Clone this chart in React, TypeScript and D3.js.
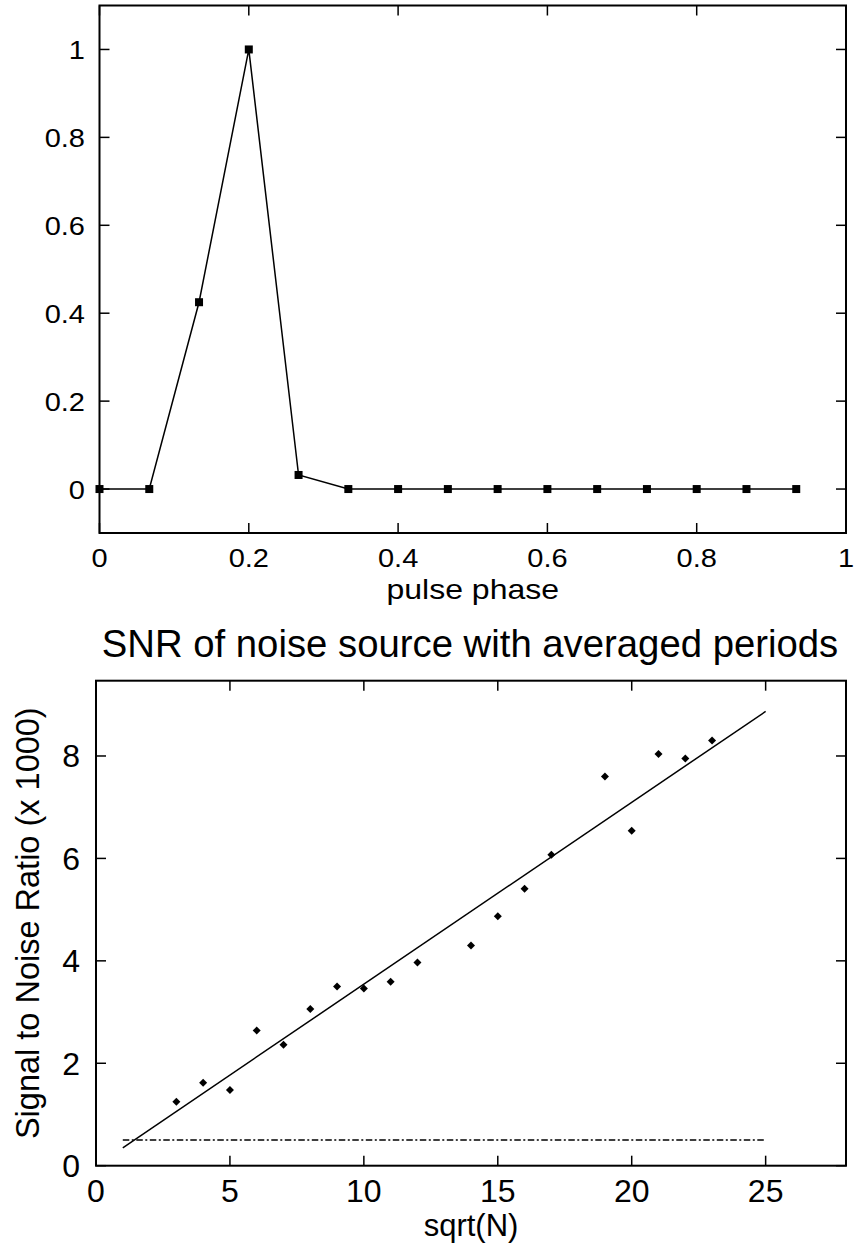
import React from "react";
import * as d3 from "d3";

// ---- Top plot data ----
const phaseX = [0, 1/15, 2/15, 3/15, 4/15, 5/15, 6/15, 7/15, 8/15, 9/15, 10/15, 11/15, 12/15, 13/15, 14/15];
const phaseY = [0, 0, 0.425, 1, 0.032, 0, 0, 0, 0, 0, 0, 0, 0, 0, 0];
const topXTicks = [0, 0.2, 0.4, 0.6, 0.8, 1];
const topYTicks = [0, 0.2, 0.4, 0.6, 0.8, 1];

// ---- Bottom plot data ----
const sqrtN = [3, 4, 5, 6, 7, 8, 9, 10, 11, 12, 14, 15, 16, 17, 19, 20, 21, 22, 23];
const snr = [1.25, 1.62, 1.48, 2.64, 2.36, 3.06, 3.50, 3.46, 3.59, 3.97, 4.30, 4.87, 5.41, 6.07, 7.60, 6.54, 8.04, 7.95, 8.30];
const fitSlope = 0.355;
const fitIntercept = -0.005;
const fitRange = [1, 25];
const noiseLevel = 0.5;
const botXTicks = [0, 5, 10, 15, 20, 25];
const botYTicks = [0, 2, 4, 6, 8];

const FONT = "'Liberation Sans', Arial, Helvetica, sans-serif";

export default function App() {
  // top scales
  const tx = d3.scaleLinear().domain([0, 1]).range([99.5, 846]);
  const ty = d3.scaleLinear().domain([-0.1, 1.1]).range([533, 5.5]);
  // bottom scales
  const bx = d3.scaleLinear().domain([0, 28]).range([96, 846]);
  const by = d3.scaleLinear().domain([0, 9.47]).range([1165.7, 680.7]);

  const topLine = d3.line<number>().x((_, i) => tx(phaseX[i])).y((d) => ty(d))(phaseY) || "";
  const tickLen = 10;

  const frame = (x0: number, x1: number, y0: number, y1: number) => (
    <rect x={x0} y={y1} width={x1 - x0} height={y0 - y1} fill="none" stroke="#000" strokeWidth={2} />
  );

  const diamond = (cx: number, cy: number, r: number) =>
    `M${cx},${cy - r}L${cx + r},${cy}L${cx},${cy + r}L${cx - r},${cy}Z`;

  return (
    <svg width={858} height={1246} style={{ position: "absolute", left: 0, top: 0, background: "#fff" }} fontFamily={FONT}>
      <rect x={0} y={0} width={858} height={1246} fill="#fff" />
      {/* ===== TOP PLOT ===== */}
      <g>
        {topXTicks.map((t) => (
          <g key={"tx" + t}>
            <line x1={tx(t)} x2={tx(t)} y1={533} y2={533 - tickLen} stroke="#000" strokeWidth={1.5} />
            <line x1={tx(t)} x2={tx(t)} y1={5.5} y2={5.5 + tickLen} stroke="#000" strokeWidth={1.5} />
            <text transform={`translate(${tx(t)},567) scale(1,0.92)`} textAnchor="middle" fontSize={29}>
              {d3.format("~g")(t)}
            </text>
          </g>
        ))}
        {topYTicks.map((t) => (
          <g key={"ty" + t}>
            <line x1={99.5} x2={99.5 + tickLen} y1={ty(t)} y2={ty(t)} stroke="#000" strokeWidth={1.5} />
            <line x1={846} x2={846 - tickLen} y1={ty(t)} y2={ty(t)} stroke="#000" strokeWidth={1.5} />
            <text transform={`translate(85,${ty(t) + 9.5}) scale(1,0.92)`} textAnchor="end" fontSize={29}>
              {d3.format("~g")(t)}
            </text>
          </g>
        ))}
        <path d={topLine} fill="none" stroke="#000" strokeWidth={1.5} />
        {phaseY.map((v, i) => (
          <rect key={"sq" + i} x={tx(phaseX[i]) - 4} y={ty(v) - 4} width={8} height={8} fill="#000" />
        ))}
        {frame(99.5, 846, 533, 5.5)}
        <text transform={`translate(${(99.5 + 846) / 2},598.5) scale(1,0.87)`} textAnchor="middle" fontSize={32}>
          pulse phase
        </text>
      </g>

      {/* ===== BOTTOM PLOT ===== */}
      <g>
        <text x={470} y={657.3} textAnchor="middle" fontSize={38.3}>
          SNR of noise source with averaged periods
        </text>
        {botXTicks.map((t) => (
          <g key={"bx" + t}>
            <line x1={bx(t)} x2={bx(t)} y1={1165.7} y2={1165.7 - tickLen} stroke="#000" strokeWidth={1.5} />
            <line x1={bx(t)} x2={bx(t)} y1={680.7} y2={680.7 + tickLen} stroke="#000" strokeWidth={1.5} />
            <text x={bx(t)} y={1201.5} textAnchor="middle" fontSize={32}>
              {t}
            </text>
          </g>
        ))}
        {botYTicks.map((t) => (
          <g key={"by" + t}>
            <line x1={96} x2={96 + tickLen} y1={by(t)} y2={by(t)} stroke="#000" strokeWidth={1.5} />
            <line x1={846} x2={846 - tickLen} y1={by(t)} y2={by(t)} stroke="#000" strokeWidth={1.5} />
            <text x={80} y={by(t) + 11.5} textAnchor="end" fontSize={32}>
              {t}
            </text>
          </g>
        ))}
        <line
          x1={bx(fitRange[0])}
          x2={bx(fitRange[1])}
          y1={by(noiseLevel)}
          y2={by(noiseLevel)}
          stroke="#000"
          strokeWidth={1.5}
          strokeDasharray="6.5,2.5,2,2.5"
        />
        <line
          x1={bx(fitRange[0])}
          x2={bx(fitRange[1])}
          y1={by(fitSlope * fitRange[0] + fitIntercept)}
          y2={by(fitSlope * fitRange[1] + fitIntercept)}
          stroke="#000"
          strokeWidth={1.5}
        />
        {snr.map((v, i) => (
          <path key={"dm" + i} d={diamond(bx(sqrtN[i]), by(v), 4)} fill="#000" />
        ))}
        {frame(96, 846, 1165.7, 680.7)}
        <text x={471} y={1236} textAnchor="middle" fontSize={31}>
          sqrt(N)
        </text>
        <text transform={`translate(39,${(680.7 + 1165.7) / 2}) rotate(-90)`} textAnchor="middle" fontSize={32.5}>
          Signal to Noise Ratio (x 1000)
        </text>
      </g>
    </svg>
  );
}
